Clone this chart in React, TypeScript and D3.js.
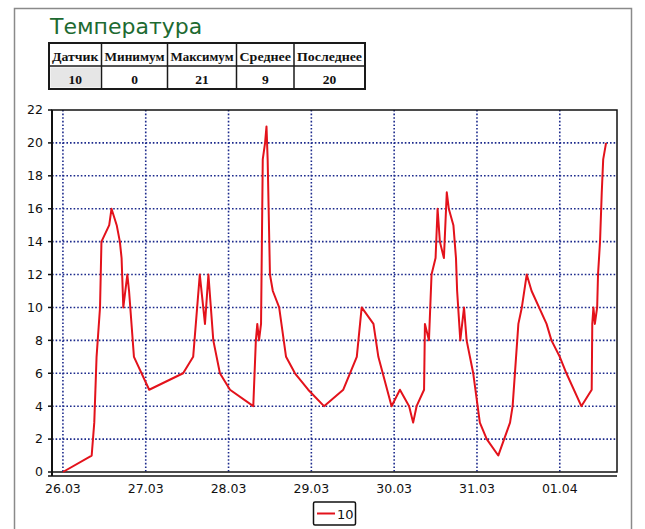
import React from "react";
import * as d3 from "d3";

const title = "Температура";
const tableHeaders = ["Датчик", "Минимум", "Максимум", "Среднее", "Последнее"];
const tableValues = ["10", "0", "21", "9", "20"];
const seriesName = "10";

const times = [
  "2013-03-26 00:00", "2013-03-26 08:20", "2013-03-26 09:05", "2013-03-26 09:45", "2013-03-26 10:45",
  "2013-03-26 11:10", "2013-03-26 13:25", "2013-03-26 14:05", "2013-03-26 15:35", "2013-03-26 16:30",
  "2013-03-26 17:00", "2013-03-26 17:30", "2013-03-26 18:40", "2013-03-26 19:10", "2013-03-26 20:35",
  "2013-03-27 01:00", "2013-03-27 10:50", "2013-03-27 13:45", "2013-03-27 15:40", "2013-03-27 17:10",
  "2013-03-27 18:10", "2013-03-27 19:35", "2013-03-27 21:30", "2013-03-28 00:25", "2013-03-28 07:10",
  "2013-03-28 07:55", "2013-03-28 08:20", "2013-03-28 08:50", "2013-03-28 09:25", "2013-03-28 09:55",
  "2013-03-28 10:35", "2013-03-28 11:00", "2013-03-28 11:20", "2013-03-28 12:00", "2013-03-28 12:50",
  "2013-03-28 14:40", "2013-03-28 16:40", "2013-03-28 19:15", "2013-03-28 23:05", "2013-03-29 03:40",
  "2013-03-29 09:15", "2013-03-29 13:10", "2013-03-29 14:35", "2013-03-29 18:00", "2013-03-29 19:25",
  "2013-03-29 23:15", "2013-03-30 01:40", "2013-03-30 04:20", "2013-03-30 05:30", "2013-03-30 06:30",
  "2013-03-30 08:40", "2013-03-30 08:55", "2013-03-30 10:05", "2013-03-30 10:50", "2013-03-30 12:00",
  "2013-03-30 12:35", "2013-03-30 13:15", "2013-03-30 14:25", "2013-03-30 15:15", "2013-03-30 15:50",
  "2013-03-30 17:10", "2013-03-30 17:55", "2013-03-30 18:15", "2013-03-30 19:10", "2013-03-30 20:15",
  "2013-03-30 21:00", "2013-03-30 22:55", "2013-03-31 00:50", "2013-03-31 02:50", "2013-03-31 06:10",
  "2013-03-31 09:35", "2013-03-31 10:20", "2013-03-31 12:00", "2013-03-31 13:00", "2013-03-31 14:25",
  "2013-03-31 15:50", "2013-03-31 20:10", "2013-03-31 21:35", "2013-04-01 00:00", "2013-04-01 01:55",
  "2013-04-01 06:15", "2013-04-01 09:15", "2013-04-01 09:25", "2013-04-01 09:45", "2013-04-01 10:10",
  "2013-04-01 10:50", "2013-04-01 11:05", "2013-04-01 11:40", "2013-04-01 12:10", "2013-04-01 12:35",
  "2013-04-01 13:25",
];
const values = [
  0, 1, 3, 7, 10,
  14, 15, 16, 15, 14,
  13, 10, 12, 11, 7,
  5, 6, 7, 12, 9,
  12, 8, 6, 5, 4,
  8, 9, 8, 9, 19,
  20, 21, 19, 12, 11,
  10, 7, 6, 5, 4,
  5, 7, 10, 9, 7,
  4, 5, 4, 3, 4,
  5, 9, 8, 12, 13,
  16, 14, 13, 17, 16,
  15, 13, 11, 8, 10,
  8, 6, 3, 2, 1,
  3, 4, 9, 10, 12,
  11, 9, 8, 7, 6,
  4, 5, 9, 10, 9,
  10, 12, 14, 17, 19,
  20,
];
const xDomain = ["2013-03-25 20:50", "2013-04-01 16:35"];
const yTicks = [0, 2, 4, 6, 8, 10, 12, 14, 16, 18, 20, 22];

const parse = d3.utcParse("%Y-%m-%d %H:%M");
const fmt = d3.utcFormat("%d.%m");

export default function App() {
  const W = 645, H = 529;
  const L = 52, R = 617, T = 110, B = 472;
  const x = d3.scaleUtc().domain(xDomain.map((s) => parse(s) as Date)).range([L, R]);
  const y = d3.scaleLinear().domain([0, 22]).range([B, T]);
  const data = times.map((t, i) => ({ t: parse(t) as Date, v: values[i] }));
  const line = d3.line<{ t: Date; v: number }>().x((d) => x(d.t)).y((d) => y(d.v));
  const days = x.ticks(d3.utcDay.every(1) as any);

  const grid = "#1c2a8c";
  const colX = [49, 101.5, 167.5, 236.5, 294, 365];
  const tTop = 43, tMid = 66, tBot = 89;

  return (
    <svg width={W} height={H} style={{ position: "absolute", left: 0, top: 0, background: "#fff" }}>
      <path d={`M14.5,${H} V8.5 H631.5 V${H}`} fill="none" stroke="#8a8a8a" strokeWidth={1.5} />
      <text x={50} y={34} fontFamily="DejaVu Sans" fontSize={22} fill="#1d6a31">{title}</text>

      <rect x={colX[0] + 1.5} y={tMid + 1.5} width={colX[1] - colX[0] - 3} height={tBot - tMid - 3} fill="#e6e6e6" />
      <rect x={colX[0]} y={tTop} width={colX[5] - colX[0]} height={tBot - tTop} fill="none" stroke="#1a1a1a" strokeWidth={2} />
      <line x1={colX[0]} x2={colX[5]} y1={tMid} y2={tMid} stroke="#1a1a1a" strokeWidth={1.5} />
      {colX.slice(1, 5).map((cx, i) => (
        <line key={i} x1={cx} x2={cx} y1={tTop} y2={tBot} stroke="#1a1a1a" strokeWidth={1.5} />
      ))}
      {tableHeaders.map((h, i) => (
        <text key={h} x={(colX[i] + colX[i + 1]) / 2} y={61} textAnchor="middle" fontFamily="Liberation Serif" fontWeight="bold" fontSize={13.5} fill="#111"
          textLength={colX[i + 1] - colX[i] - 6} lengthAdjust="spacingAndGlyphs">{h}</text>
      ))}
      {tableValues.map((v, i) => (
        <text key={i} x={(colX[i] + colX[i + 1]) / 2} y={84} textAnchor="middle" fontFamily="Liberation Serif" fontWeight="bold" fontSize={13.5} fill="#111">{v}</text>
      ))}

      {yTicks.filter((v) => v > 0 && v < 22).map((v) => (
        <line key={"h" + v} x1={L} x2={R} y1={y(v)} y2={y(v)} stroke={grid} strokeWidth={1.6} strokeDasharray="1.6 2" />
      ))}
      {days.map((d, i) => (
        <line key={"v" + i} x1={x(d)} x2={x(d)} y1={T} y2={B} stroke={grid} strokeWidth={1.6} strokeDasharray="1.6 2" />
      ))}

      <rect x={L} y={T} width={R - L} height={B - T} fill="none" stroke="#111" strokeWidth={1.5} />
      <line x1={L} x2={L} y1={T} y2={B + 4} stroke="#111" strokeWidth={2} />
      <line x1={L - 4} x2={R} y1={B + 4} y2={B + 4} stroke="#111" strokeWidth={1.5} />
      {yTicks.map((v) => (
        <g key={"yt" + v}>
          <line x1={L - 4} x2={L} y1={y(v)} y2={y(v)} stroke="#111" strokeWidth={1.5} />
          <text x={43} y={y(v)} dy="0.35em" textAnchor="end" fontFamily="DejaVu Sans" fontSize={12.5} fill="#111">{v}</text>
        </g>
      ))}
      {days.map((d, i) => (
        <text key={"xt" + i} x={x(d)} y={493} textAnchor="middle" fontFamily="DejaVu Sans" fontSize={12.5} fill="#111">{fmt(d)}</text>
      ))}

      <path d={line(data) || ""} fill="none" stroke="#e3121b" strokeWidth={2} strokeLinejoin="round" />

      <rect x={313.5} y={502} width={42} height={23} rx={1.5} fill="#fff" stroke="#111" strokeWidth={1.5} />
      <line x1={317} x2={335} y1={513.5} y2={513.5} stroke="#e3121b" strokeWidth={2} />
      <text x={337} y={518.5} fontFamily="DejaVu Sans" fontSize={13} fill="#111">{seriesName}</text>
    </svg>
  );
}
